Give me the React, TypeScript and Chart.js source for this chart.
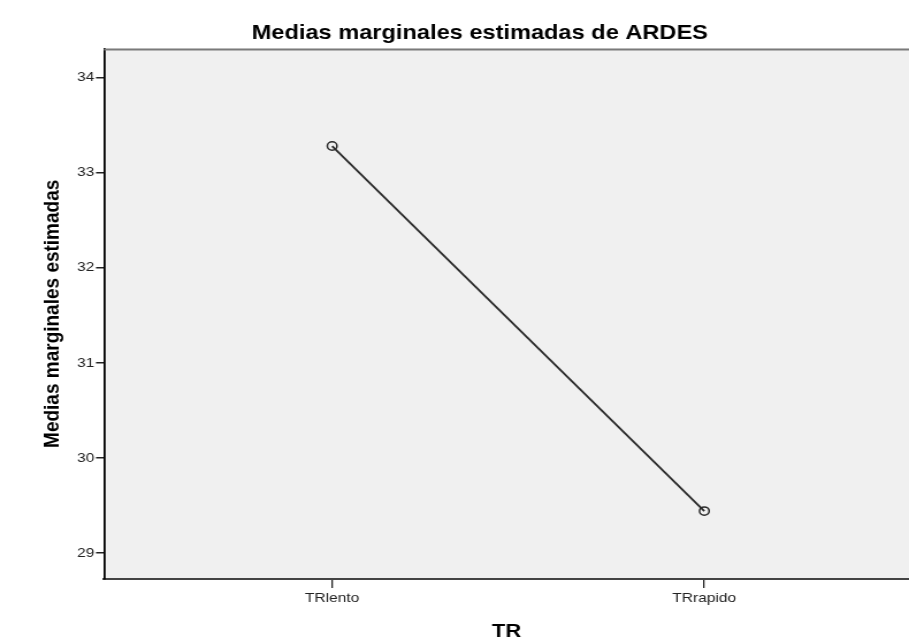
import React, { useEffect, useRef } from "react";
import { Chart, registerables } from "chart.js";

Chart.register(...registerables);

const categories = ["TRlento", "TRrapido"];
const means = [33.28, 29.44];
const yTicks = [29, 30, 31, 32, 33, 34];

const chartTitle = "Medias marginales estimadas de ARDES";
const yTitle = "Medias marginales estimadas";
const xTitle = "TR";

const FONT = "'Liberation Sans', Arial, sans-serif";

const plotBg = {
  id: "plotBg",
  beforeDraw(chart: any) {
    const { ctx, chartArea } = chart;
    if (!chartArea) return;
    ctx.save();
    ctx.fillStyle = "#f0f0f0";
    ctx.fillRect(chartArea.left, chartArea.top, chartArea.right - chartArea.left, chartArea.bottom - chartArea.top);
    ctx.restore();
  },
  afterDraw(chart: any) {
    const { ctx, chartArea } = chart;
    if (!chartArea) return;
    ctx.save();
    ctx.strokeStyle = "#7a7a7a";
    ctx.lineWidth = 2;
    ctx.beginPath();
    ctx.moveTo(chartArea.left, chartArea.top + 1);
    ctx.lineTo(chartArea.right, chartArea.top + 1);
    ctx.stroke();
    ctx.restore();
  },
};

export default function App() {
  const ref = useRef<HTMLCanvasElement | null>(null);

  useEffect(() => {
    if (!ref.current) return;
    const chart = new Chart(ref.current, {
      type: "line",
      data: {
        datasets: [
          {
            data: means.map((v, i) => ({ x: i, y: v })),
            borderColor: "#2a2a2a",
            borderWidth: 1.8,
            pointRadius: 4.2,
            pointBorderWidth: 1.5,
            pointBorderColor: "#2a2a2a",
            pointBackgroundColor: "rgba(0,0,0,0)",
            tension: 0,
          },
        ],
      },
      plugins: [plotBg],
      options: {
        responsive: false,
        animation: false,
        events: [],
        layout: { autoPadding: false, padding: { left: 44, right: 0, top: 0, bottom: 0 } },
        plugins: {
          legend: { display: false },
          tooltip: { enabled: false },
          title: {
            display: true,
            text: chartTitle,
            color: "#000",
            font: { family: FONT, size: 20.5, weight: "bold" },
            padding: { top: 21, bottom: 3 },
          },
        },
        scales: {
          x: {
            type: "linear",
            min: -0.613,
            max: 1.55,
            afterBuildTicks: (s: any) => {
              s.ticks = categories.map((_, i) => ({ value: i }));
            },
            afterFit: (s: any) => {
              s.height = 62;
              s.paddingLeft = 0;
              s.paddingRight = 0;
            },
            ticks: {
              callback: (v: any) => categories[v] ?? "",
              color: "#222",
              font: { family: FONT, size: 13.5 },
              padding: 2,
              maxRotation: 0,
            },
            grid: {
              display: true,
              drawOnChartArea: false,
              drawTicks: true,
              tickLength: 9,
              color: "#222",
              lineWidth: 1.3,
            },
            border: { display: true, color: "#444", width: 2 },
            title: {
              display: true,
              text: xTitle,
              color: "#000",
              font: { family: FONT, size: 19, weight: "bold", lineHeight: 1 },
              padding: { top: 0, bottom: 0 },
            },
          },
          y: {
            type: "linear",
            min: 28.726,
            max: 34.305,
            afterBuildTicks: (s: any) => {
              s.ticks = yTicks.map((v) => ({ value: v }));
            },
            afterFit: (s: any) => {
              s.width = 46.4;
              s.paddingTop = 0;
              s.paddingBottom = 0;
            },
            ticks: {
              color: "#222",
              font: { family: FONT, size: 13.5 },
              padding: 1.5,
            },
            grid: {
              display: true,
              drawOnChartArea: false,
              drawTicks: true,
              tickLength: 7,
              color: "#222",
              lineWidth: 1.5,
            },
            border: { display: true, color: "#000", width: 1.8 },
            title: {
              display: true,
              text: yTitle,
              color: "#000",
              font: { family: FONT, size: 19, weight: "bold", lineHeight: 1 },
              padding: { top: -8, bottom: 0 },
            },
          },
        },
      },
    } as any);
    return () => chart.destroy();
  }, []);

  return (
    <div style={{ position: "absolute", left: 0, top: 0, width: 909, height: 641, overflow: "hidden", background: "#fff" }}>
      <canvas ref={ref} width={790} height={641} style={{ width: "909px", height: "641px", display: "block" }} />
    </div>
  );
}
